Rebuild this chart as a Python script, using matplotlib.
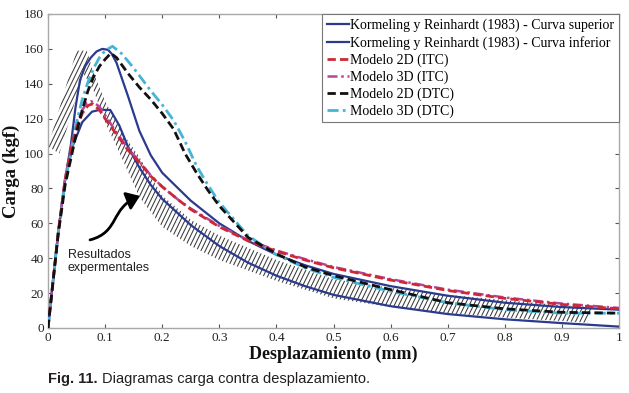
import matplotlib
matplotlib.use("Agg")
import numpy as np
import matplotlib.pyplot as plt
from matplotlib.path import Path
from matplotlib.patches import FancyArrowPatch, Polygon
from matplotlib.collections import LineCollection

# ---------------- data ----------------
sup_x = [0, 0.018, 0.03, 0.04, 0.048, 0.056, 0.065, 0.075, 0.085, 0.095, 0.105, 0.112,
         0.12, 0.14, 0.16, 0.18, 0.2, 0.25, 0.3, 0.35, 0.4, 0.45, 0.5, 0.6, 0.7, 0.8, 0.9, 1.0]
sup_y = [0, 55, 85, 105, 126, 142, 150, 155, 158.5, 160, 159.5, 157,
         152, 133, 113, 99, 89, 73, 60, 50, 42, 36, 31, 24, 18.5, 14.5, 12, 10.5]

inf_x = [0, 0.018, 0.03, 0.044, 0.06, 0.077, 0.09, 0.109, 0.125, 0.14, 0.16, 0.18, 0.2,
         0.25, 0.3, 0.35, 0.4, 0.45, 0.5, 0.6, 0.7, 0.8, 0.9, 1.0]
inf_y = [0, 55, 85, 105, 118, 124, 125, 125, 116, 104, 92, 82, 74,
         59, 47, 37.5, 30, 24, 19, 12.5, 8, 5, 2.8, 0.8]

itc2d_x = [0, 0.018, 0.03, 0.042, 0.05, 0.06, 0.07, 0.078, 0.09, 0.1, 0.12, 0.14, 0.16, 0.18,
           0.2, 0.23, 0.25, 0.3, 0.35, 0.4, 0.45, 0.5, 0.6, 0.7, 0.8, 0.9, 1.0]
itc2d_y = [0, 55, 85, 105, 115, 123, 127.5, 128.5, 125, 120, 111, 102, 95, 87,
           81, 73, 68, 58, 50, 44, 39, 34.5, 27.5, 21.5, 17, 13.5, 11]

itc3d_x = [0, 0.018, 0.03, 0.042, 0.05, 0.06, 0.068, 0.076, 0.09, 0.1, 0.12, 0.14, 0.16, 0.18,
           0.2, 0.23, 0.25, 0.3, 0.35, 0.4, 0.45, 0.5, 0.6, 0.7, 0.8, 0.9, 1.0]
itc3d_y = [0, 55, 86, 106, 117, 125, 129, 130, 127, 122, 112, 103, 95.5, 87.5,
           81, 73, 68.5, 58.5, 50.5, 44.5, 39.5, 35, 28, 22, 17.5, 14, 11.5]

dtc2d_x = [0, 0.018, 0.03, 0.042, 0.05, 0.06, 0.07, 0.08, 0.09, 0.1, 0.11, 0.12, 0.14, 0.16,
           0.18, 0.2, 0.22, 0.24, 0.26, 0.28, 0.3, 0.35, 0.4, 0.45, 0.5, 0.6, 0.7, 0.8, 0.9, 1.0]
dtc2d_y = [0, 54, 82, 100, 112, 125, 136, 144, 150, 154, 157.5, 155, 146, 138,
           131, 123, 114, 100, 89, 79, 70, 52, 42.5, 35, 30, 22, 14.5, 11, 9, 8.5]

dtc3d_x = [0, 0.018, 0.03, 0.042, 0.05, 0.06, 0.07, 0.08, 0.09, 0.1, 0.113, 0.13, 0.15, 0.18,
           0.2, 0.22, 0.24, 0.26, 0.28, 0.3, 0.35, 0.4, 0.45, 0.5, 0.6, 0.7, 0.8, 0.9, 1.0]
dtc3d_y = [0, 55, 84, 104, 118, 131, 141, 149, 155, 159, 161.5, 157, 149, 136,
           128, 119, 107, 93, 82, 72, 53, 42, 34.5, 29, 21, 14.5, 10.5, 8.5, 8.5]

# experimental envelope (hatched band), outline
band_x = [0.0, 0.05, 0.068, 0.08, 0.1, 0.13, 0.16, 0.2, 0.25, 0.3, 0.35, 0.4, 0.5, 0.6, 0.7,
          0.8, 0.9, 0.955, 0.945, 0.9, 0.8, 0.7, 0.6, 0.5, 0.4, 0.35, 0.3, 0.25, 0.2, 0.16,
          0.13, 0.1, 0.08, 0.062, 0.02]
band_y = [104, 159, 159, 146, 130, 112, 98, 76, 62, 53, 46, 39, 28, 23, 19,
          16, 13, 12, 3, 4, 6, 8.5, 12, 17, 27, 33, 39, 47, 58, 75,
          97, 118, 136, 146, 100]

# arrow (cubic Bezier control points)
arrow_x = [0.0736, 0.126, 0.1086, 0.161]
arrow_y = [50.5, 55.0, 68.8, 75.7]

labels = ["Kormeling y Reinhardt (1983) - Curva superior",
          "Kormeling y Reinhardt (1983) - Curva inferior",
          "Modelo 2D (ITC)", "Modelo 3D (ITC)", "Modelo 2D (DTC)", "Modelo 3D (DTC)"]
x_ticks = [0, 0.1, 0.2, 0.3, 0.4, 0.5, 0.6, 0.7, 0.8, 0.9, 1.0]
x_ticklabels = ["0", "0.1", "0.2", "0.3", "0.4", "0.5", "0.6", "0.7", "0.8", "0.9", "1"]
y_ticks = [0, 20, 40, 60, 80, 100, 120, 140, 160, 180]

# ---------------- style ----------------
serif = ["Liberation Serif", "DejaVu Serif"]
sans = ["Liberation Sans", "DejaVu Sans"]

navy = "#2b3a8f"
red = "#cc2936"
magenta = "#b5449a"
black = "#111111"
cyan = "#46b4d6"

fig = plt.figure(figsize=(6.29, 3.93), dpi=100)
ax = fig.add_axes([48 / 629, 1 - 328 / 393, 571 / 629, 314 / 393])
ax.set_xlim(0, 1)
ax.set_ylim(0, 180)

# hatched band: steep strokes clipped to the envelope outline
band = Polygon(np.column_stack([band_x, band_y]), closed=True, facecolor="none",
               edgecolor="none", transform=ax.transData)
ax.add_patch(band)
W, H = 571.0, 314.0              # axes size in pixels
spacing, angle = 4.4, np.deg2rad(64)
run = H / np.tan(angle)
offs = np.arange(-run, W + spacing, spacing)
segs = [[(o / W, 0.0), ((o + run) / W, 180.0)] for o in offs]
hatch = LineCollection(segs, colors="#3a3a3a", linewidths=0.75, transform=ax.transData,
                       zorder=1)
hatch.set_clip_path(band)
ax.add_collection(hatch)

ax.plot(sup_x, sup_y, color=navy, lw=1.6, label=labels[0], zorder=3)
ax.plot(inf_x, inf_y, color=navy, lw=1.6, label=labels[1], zorder=3)
ax.plot(itc3d_x, itc3d_y, color=magenta, lw=1.8, ls=(0, (4, 1.5, 1, 1.5)), zorder=4)
ax.plot(itc2d_x, itc2d_y, color=red, lw=2.0, ls=(0, (3, 1.5)), label=labels[2], zorder=5)
ax.plot([], [], color=magenta, lw=1.8, ls=(0, (4, 1.5, 1, 1.5)), label=labels[3])
ax.plot(dtc3d_x, dtc3d_y, color=cyan, lw=2.0, ls=(0, (4, 1.5, 1, 1.5)), zorder=4)
ax.plot(dtc2d_x, dtc2d_y, color=black, lw=2.0, ls=(0, (3, 1.5)), label=labels[4], zorder=5)
ax.plot([], [], color=cyan, lw=2.0, ls=(0, (4, 1.5, 1, 1.5)), label=labels[5])

# arrow and annotation text
path = Path(list(zip(arrow_x, arrow_y)),
            [Path.MOVETO, Path.CURVE4, Path.CURVE4, Path.CURVE4])
arr = FancyArrowPatch(path=path, arrowstyle="-|>,head_length=0.55,head_width=0.4",
                      mutation_scale=14, color="black", lw=2.0, zorder=6)
ax.add_patch(arr)
ax.text(0.035, 45.5, "Resultados\nexpermentales", ha="left", va="top",
        fontsize=9, family=sans, color="#231f20", linespacing=1.1, zorder=6)

ax.set_xticks(x_ticks)
ax.set_xticklabels(x_ticklabels)
ax.set_yticks(y_ticks)
for lab in ax.get_xticklabels() + ax.get_yticklabels():
    lab.set_family(serif)
    lab.set_fontsize(9.5)
    lab.set_color("#222222")
ax.tick_params(direction="in", length=3, width=0.8, color="#555555",
               top=True, right=True, pad=3)
for s in ax.spines.values():
    s.set_color("#a8a8a8")
    s.set_linewidth(1.0)

ax.set_xlabel("Desplazamiento (mm)", family=serif, fontsize=13, fontweight="bold",
              labelpad=1, color="#111111")
ax.set_ylabel("Carga (kgf)", family=serif, fontsize=13.5, fontweight="bold",
              labelpad=3, color="#111111")

leg = ax.legend(loc="upper right", borderaxespad=0, fancybox=False, framealpha=1,
                edgecolor="#777777", prop={"family": serif, "size": 10},
                handlelength=1.6, handletextpad=0.1, labelspacing=0.25,
                borderpad=0.35)
leg.get_frame().set_linewidth(0.8)
leg.set_zorder(10)

# caption
cap_y = 1 - 379 / 393
t1 = fig.text(48 / 629, cap_y, "Fig. 11.", family=sans, fontsize=10.5, fontweight="bold",
              va="center", ha="left", color="#231f20")
fig.canvas.draw()
bb = t1.get_window_extent()
fig.text((bb.x1 + 4) / fig.bbox.width, cap_y, "Diagramas carga contra desplazamiento.",
         family=sans, fontsize=10.5, va="center", ha="left", color="#231f20")

fig.savefig("out.png", dpi=100)
